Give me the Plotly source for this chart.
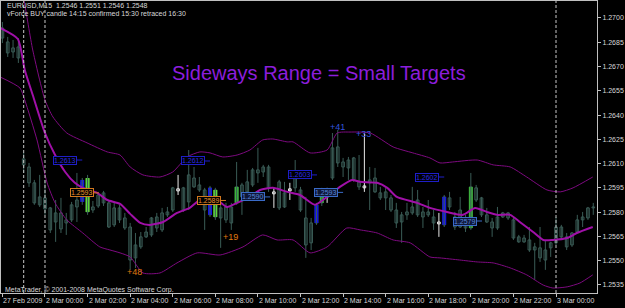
import numpy as np
import plotly.graph_objects as go

# ---------------- data (EURUSD M15) ----------------
opens = [1.26938, 1.26852, 1.26790, 1.26821, 1.26129, 1.26079, 1.25981, 1.25845, 1.25888, 1.25826,
         1.25739, 1.25795, 1.25733, 1.25752, 1.25832, 1.25875, 1.26005, 1.25832, 1.25838, 1.25857,
         1.25857, 1.25721, 1.25826, 1.25764, 1.25708, 1.25517, 1.25585, 1.25647, 1.25659, 1.25770,
         1.25690, 1.25783, 1.25813, 1.25944, 1.25950, 1.25863, 1.26011, 1.25968, 1.25937, 1.25950,
         1.25770, 1.25764, 1.25832, 1.25733, 1.25857, 1.25894, 1.25925, 1.25968, 1.26042, 1.26048,
         1.26079, 1.25925, 1.25826, 1.25919, 1.25931, 1.25950, 1.25937, 1.25764, 1.25610, 1.25733,
         1.25857, 1.25906, 1.26011, 1.26203, 1.26110, 1.26073, 1.26135, 1.25987, 1.25962, 1.25981,
         1.26011, 1.25919, 1.25888, 1.25888, 1.25813, 1.25739, 1.25783, 1.25795, 1.25875, 1.25770,
         1.25801, 1.25770, 1.25739, 1.25721, 1.25888, 1.25770, 1.25708, 1.25752, 1.25702, 1.25950,
         1.25888, 1.25783, 1.25739, 1.25702, 1.25770, 1.25795, 1.25752, 1.25647, 1.25616, 1.25628,
         1.25566, 1.25579, 1.25566, 1.25579, 1.25610, 1.25708, 1.25647, 1.25597, 1.25677, 1.25752,
         1.25764, 1.25826]
highs = [1.26975, 1.26883, 1.26864, 1.26876, 1.26166, 1.26104, 1.25999, 1.26030, 1.25999, 1.25832,
         1.25875, 1.25888, 1.25795, 1.25863, 1.26042, 1.26011, 1.26030, 1.25869, 1.25925, 1.25931,
         1.25875, 1.25857, 1.25845, 1.25795, 1.25733, 1.25671, 1.25677, 1.25708, 1.25770, 1.25795,
         1.25826, 1.25832, 1.25956, 1.26030, 1.25956, 1.26184, 1.26079, 1.26017, 1.25950, 1.25962,
         1.25950, 1.25857, 1.25857, 1.25857, 1.26110, 1.25981, 1.26061, 1.26073, 1.26197, 1.26092,
         1.26092, 1.25950, 1.25999, 1.25987, 1.25981, 1.26122, 1.25956, 1.25894, 1.25764, 1.25857,
         1.25950, 1.25950, 1.26289, 1.26308, 1.26135, 1.26141, 1.26141, 1.26153, 1.26289, 1.26079,
         1.26073, 1.25956, 1.25950, 1.25906, 1.25857, 1.25801, 1.25857, 1.25956, 1.25937, 1.25832,
         1.25875, 1.25813, 1.25795, 1.25906, 1.25925, 1.25801, 1.25894, 1.25783, 1.26042, 1.25968,
         1.25894, 1.25826, 1.25764, 1.25832, 1.25801, 1.25801, 1.25764, 1.25659, 1.25659, 1.25708,
         1.25610, 1.25708, 1.25628, 1.25616, 1.25770, 1.25721, 1.25671, 1.25677, 1.25783, 1.25801,
         1.25832, 1.25857]
lows = [1.26845, 1.26759, 1.26753, 1.26722, 1.26042, 1.25956, 1.25845, 1.25832, 1.25783, 1.25671,
        1.25616, 1.25671, 1.25659, 1.25739, 1.25739, 1.25845, 1.25783, 1.25795, 1.25826, 1.25838,
        1.25702, 1.25708, 1.25733, 1.25690, 1.25443, 1.25455, 1.25573, 1.25640, 1.25647, 1.25677,
        1.25677, 1.25770, 1.25801, 1.25906, 1.25801, 1.25813, 1.25950, 1.25925, 1.25690, 1.25770,
        1.25752, 1.25579, 1.25733, 1.25690, 1.25845, 1.25783, 1.25919, 1.25956, 1.25981, 1.26017,
        1.25925, 1.25826, 1.25813, 1.25826, 1.25875, 1.25925, 1.25801, 1.25517, 1.25566, 1.25721,
        1.25838, 1.25857, 1.25999, 1.26079, 1.26017, 1.25999, 1.25987, 1.25937, 1.25925, 1.25813,
        1.25919, 1.25875, 1.25813, 1.25801, 1.25702, 1.25610, 1.25752, 1.25783, 1.25770, 1.25702,
        1.25770, 1.25690, 1.25647, 1.25708, 1.25813, 1.25690, 1.25702, 1.25677, 1.25690, 1.25863,
        1.25770, 1.25733, 1.25647, 1.25690, 1.25764, 1.25752, 1.25628, 1.25610, 1.25610, 1.25554,
        1.25381, 1.25492, 1.25443, 1.25523, 1.25597, 1.25640, 1.25566, 1.25585, 1.25671, 1.25708,
        1.25752, 1.25783]
closes = [1.26876, 1.26784, 1.26815, 1.26753, 1.26092, 1.25981, 1.25857, 1.25894, 1.25820, 1.25690,
          1.25795, 1.25696, 1.25752, 1.25845, 1.25875, 1.25987, 1.25801, 1.25813, 1.25906, 1.25919,
          1.25708, 1.25826, 1.25752, 1.25702, 1.25504, 1.25597, 1.25647, 1.25677, 1.25764, 1.25702,
          1.25795, 1.25801, 1.25950, 1.25931, 1.25813, 1.26030, 1.25956, 1.25937, 1.25813, 1.25783,
          1.25937, 1.25826, 1.25752, 1.25832, 1.25956, 1.25968, 1.25987, 1.26061, 1.26061, 1.26079,
          1.25950, 1.25913, 1.25987, 1.25832, 1.25944, 1.26048, 1.25813, 1.25597, 1.25733, 1.25845,
          1.25937, 1.25894, 1.26197, 1.26104, 1.26079, 1.26122, 1.25999, 1.25956, 1.25950, 1.25999,
          1.25925, 1.25888, 1.25925, 1.25813, 1.25733, 1.25783, 1.25801, 1.25832, 1.25783, 1.25801,
          1.25783, 1.25733, 1.25727, 1.25894, 1.25832, 1.25708, 1.25813, 1.25702, 1.25956, 1.25875,
          1.25783, 1.25739, 1.25702, 1.25770, 1.25795, 1.25764, 1.25640, 1.25616, 1.25640, 1.25566,
          1.25585, 1.25517, 1.25504, 1.25610, 1.25708, 1.25647, 1.25585, 1.25671, 1.25752, 1.25770,
          1.25826, 1.25832]

# candles highlighted in white
white_idx = [33, 51, 54, 61, 68, 82]

# vForce signal bars
sig_idx = [15, 16, 39, 40, 44, 59, 60, 83, 88]
sig_hi = [1.25999, 1.26011, 1.25950, 1.25937, 1.25956, 1.25845, 1.25937, 1.25894, 1.25956]
sig_lo = [1.25863, 1.25801, 1.25783, 1.25770, 1.25857, 1.25733, 1.25857, 1.25721, 1.25702]
sig_col = ["#1414E0", "#5ED83A", "#1414E0", "#5ED83A", "#3CB43C",
           "#1414E0", "#3CAF3C", "#1414E0", "#3CAF3C"]

# envelope / moving average (bar index, price)
mid_x = [-0.4, 2.9, 4.2, 5.7, 8.0, 9.9, 11.8, 13.6, 15.1, 17.8, 19.7, 22.1, 24.0, 25.9, 27.7,
         30.2, 32.8, 35.2, 37.1, 40.3, 42.2, 44.1, 46.5, 48.4, 50.8, 53.5, 55.9, 58.7, 61.0,
         63.4, 65.7, 67.2, 70.4, 72.3, 74.1, 77.9, 80.3, 83.5, 86.5, 88.8, 91.0, 92.9, 95.4,
         97.2, 99.7, 101.6, 103.4, 106.1, 107.9, 110.9]
mid_y = [1.26938, 1.26870, 1.26679, 1.26524, 1.26289, 1.26153, 1.26048, 1.25981, 1.25950,
         1.25919, 1.25875, 1.25851, 1.25789, 1.25733, 1.25721, 1.25739, 1.25795, 1.25826,
         1.25875, 1.25875, 1.25832, 1.25857, 1.25894, 1.25937, 1.25950, 1.25925, 1.25906,
         1.25845, 1.25894, 1.25956, 1.25999, 1.25987, 1.25981, 1.25950, 1.25894, 1.25857,
         1.25826, 1.25801, 1.25783, 1.25826, 1.25801, 1.25783, 1.25783, 1.25739, 1.25677,
         1.25628, 1.25628, 1.25640, 1.25671, 1.25708]
up_x = [3.5, 4.1, 5.7, 8.0, 9.5, 12.1, 15.9, 19.7, 22.1, 24.0, 26.4, 29.6, 32.0, 34.7, 37.1,
        39.0, 41.4, 44.1, 46.5, 48.9, 50.8, 53.5, 54.6, 57.8, 61.0, 62.9, 65.3, 69.1, 73.4,
        77.1, 80.3, 82.2, 84.6, 89.2, 92.2, 95.4, 98.5, 102.3, 104.8, 107.2, 110.9]
up_y = [1.27173, 1.27099, 1.26802, 1.26493, 1.26388, 1.26289, 1.26228, 1.26172, 1.26153,
        1.26079, 1.26030, 1.26017, 1.26048, 1.26141, 1.26172, 1.26166, 1.26141, 1.26153,
        1.26184, 1.26246, 1.26252, 1.26234, 1.26234, 1.26166, 1.26184, 1.26289, 1.26295,
        1.26289, 1.26203, 1.26166, 1.26135, 1.26104, 1.26110, 1.26122, 1.26092, 1.26079,
        1.26017, 1.25937, 1.25925, 1.25950, 1.26017]
lo_x = [-0.4, 3.3, 4.2, 6.5, 8.4, 9.9, 12.1, 15.1, 18.3, 20.2, 22.1, 24.0, 26.4, 29.6, 32.8,
        36.6, 40.9, 45.2, 48.9, 51.6, 54.6, 57.8, 61.0, 64.7, 67.2, 70.4, 73.4, 76.6, 80.3,
        82.2, 85.9, 89.2, 92.2, 95.4, 98.5, 101.6, 103.4, 106.1, 108.5, 110.9]
lo_y = [1.26635, 1.26567, 1.26493, 1.26246, 1.25981, 1.25857, 1.25752, 1.25671, 1.25585,
        1.25566, 1.25548, 1.25523, 1.25424, 1.25424, 1.25486, 1.25548, 1.25535, 1.25585,
        1.25659, 1.25628, 1.25628, 1.25548, 1.25585, 1.25702, 1.25690, 1.25671, 1.25628,
        1.25610, 1.25523, 1.25517, 1.25504, 1.25492, 1.25486, 1.25455, 1.25412, 1.25349,
        1.25331, 1.25338, 1.25362, 1.25412]

# price-level labels (end bar index, price, text, kind)
lab_idx = [15.0, 18.1, 39.0, 42.0, 50.3, 59.1, 64.0, 83.0, 90.1]
lab_price = [1.26122, 1.25919, 1.26116, 1.25872, 1.25894, 1.26030, 1.25922, 1.26017, 1.25745]
lab_text = ["1.2613", "1.2593", "1.2612", "1.2589", "1.2590", "1.2603", "1.2593", "1.2602", "1.2579"]
lab_kind = ["blue", "orange", "blue", "orange", "light", "blue", "light", "blue", "light"]

# pip targets
tgt_idx = [24.9, 42.9, 62.9, 67.9]
tgt_price = [1.25430, 1.25647, 1.26326, 1.26283]
tgt_text = ["+48", "+19", "+41", "+33"]
tgt_col = ["#E07A10", "#E07A10", "#3355DD", "#3355DD"]

# axes
xt_idx = [0, 8, 16, 24, 32, 40, 48, 56, 64, 72, 80, 88, 96, 104]
xt_text = ["27 Feb 2009", "2 Mar 00:00", "2 Mar 02:00", "2 Mar 04:00", "2 Mar 06:00",
           "2 Mar 08:00", "2 Mar 10:00", "2 Mar 12:00", "2 Mar 14:00", "2 Mar 16:00",
           "2 Mar 18:00", "2 Mar 20:00", "2 Mar 22:00", "3 Mar 00:00"]
yt_vals = [1.2700, 1.2685, 1.2670, 1.2655, 1.2640, 1.2625, 1.2610, 1.2595, 1.2580, 1.2565, 1.2550, 1.2535]
yt_text = ["%.4f" % v for v in yt_vals]
separators = [4, 8, 104]

title_text = "Sideways Range = Small Targets"
header1 = "EURUSD,M15  1.2546 1.2551 1.2546 1.2548"
header2 = "vForce BUY candle 14:15 confirmed 15:30 retraced 16:30"
footer = "MetaTrader, \u00a9 2001-2008 MetaQuotes Software Corp."

# ---------------- styling ----------------
CANDLE = "#3A5C56"
FONT = "Liberation Sans"
TXT = "#D8D8D8"

o = np.array(opens); h = np.array(highs); l = np.array(lows); c = np.array(closes)
n = len(o)
normal_idx = [i for i in range(n) if i not in white_idx]


def wick_xy(ids):
    xs, ys = [], []
    for i in ids:
        xs += [i, i, None]
        ys += [l[i], h[i], None]
    return xs, ys


fig = go.Figure()

wx, wy = wick_xy(normal_idx)
fig.add_trace(go.Scatter(x=wx, y=wy, mode="lines", line=dict(color=CANDLE, width=1), hoverinfo="skip"))
fig.add_trace(go.Bar(x=normal_idx, base=np.minimum(o, c)[normal_idx], y=np.abs(c - o)[normal_idx],
                     width=0.5, marker=dict(color="#000000", line=dict(color=CANDLE, width=1)),
                     hoverinfo="skip"))

wx, wy = wick_xy(white_idx)
fig.add_trace(go.Scatter(x=wx, y=wy, mode="lines", line=dict(color="#E8E8E8", width=1), hoverinfo="skip"))
fig.add_trace(go.Bar(x=white_idx, base=np.minimum(o, c)[white_idx], y=np.abs(c - o)[white_idx],
                     width=0.5, marker=dict(color="#000000", line=dict(color="#E8E8E8", width=1)),
                     hoverinfo="skip"))

for xs, ys, w, col in [(up_x, up_y, 1, "#7E0A80"), (lo_x, lo_y, 1, "#7E0A80"), (mid_x, mid_y, 2, "#A010A8")]:
    fig.add_trace(go.Scatter(x=xs, y=ys, mode="lines", line=dict(color=col, width=w, shape="spline", smoothing=0.6),
                             hoverinfo="skip"))

fig.add_trace(go.Bar(x=sig_idx, base=sig_lo, y=np.array(sig_hi) - np.array(sig_lo), width=0.75,
                     marker=dict(color=sig_col, line=dict(width=0)), hoverinfo="skip"))

anns = []
styles = {
    "blue": dict(fc="#2A2AE0", bc="#1E1EC8", bg="#000000"),
    "orange": dict(fc="#E8922E", bc="#D2781E", bg="#000000"),
    "light": dict(fc="#5A86D8", bc="#3A6BC8", bg="#0E1838"),
}
for xi, pr, tx, kd in zip(lab_idx, lab_price, lab_text, lab_kind):
    st = styles[kd]
    anns.append(dict(x=xi, y=pr, xref="x", yref="y", text=tx, showarrow=True, arrowhead=0,
                     arrowwidth=1, arrowcolor=st["bc"], ax=-17, ay=0,
                     font=dict(family=FONT, size=7, color=st["fc"]),
                     bordercolor=st["bc"], borderwidth=1, borderpad=0, bgcolor=st["bg"]))
for xi, pr, tx, col in zip(tgt_idx, tgt_price, tgt_text, tgt_col):
    anns.append(dict(x=xi, y=pr, xref="x", yref="y", text=tx, showarrow=False,
                     font=dict(family=FONT, size=9, color=col)))
for xi, tx in zip(xt_idx, xt_text):
    anns.append(dict(x=xi, y=0, xref="x", yref="paper", text=tx, showarrow=False,
                     xanchor="left", yanchor="top", xshift=-1, yshift=-2,
                     font=dict(family=FONT, size=7, color=TXT)))
anns.append(dict(x=0.5336, y=0.798, xref="paper", yref="paper", text=title_text, showarrow=False,
                 font=dict(family=FONT, size=20, color="#8C1EDC")))
anns.append(dict(x=0.0067, y=0.983, xref="paper", yref="paper", text=header1, showarrow=False,
                 xanchor="left", yanchor="middle", font=dict(family=FONT, size=7, color=TXT)))
anns.append(dict(x=0.0067, y=0.957, xref="paper", yref="paper", text=header2, showarrow=False,
                 xanchor="left", yanchor="middle", font=dict(family=FONT, size=7, color=TXT)))
anns.append(dict(x=0.0034, y=0.0086, xref="paper", yref="paper", text=footer, showarrow=False,
                 xanchor="left", yanchor="middle", font=dict(family=FONT, size=7, color=TXT)))

shapes = [dict(type="line", x0=s, x1=s, xref="x", y0=0, y1=1, yref="paper",
               line=dict(color="#C8C8C8", width=1, dash="3px,2px"), layer="above") for s in separators]

fig.update_layout(
    width=625, height=308,
    margin=dict(l=1, r=28, t=1, b=15),
    paper_bgcolor="#000000", plot_bgcolor="#000000",
    showlegend=False, barmode="overlay", hovermode=False,
    annotations=anns, shapes=shapes,
    xaxis=dict(range=[-0.263, 111.7], showgrid=False, zeroline=False, showline=True, mirror=True,
               linecolor="#C0C0C0", linewidth=1, tickvals=xt_idx, ticks="outside", ticklen=3,
               tickcolor="#C0C0C0", showticklabels=False),
    yaxis=dict(range=[1.25300, 1.27105], side="right", showgrid=False, zeroline=False, showline=True,
               mirror=True, linecolor="#C0C0C0", linewidth=1, tickvals=yt_vals, ticktext=yt_text,
               ticks="outside", ticklen=3, tickcolor="#C0C0C0",
               tickfont=dict(family=FONT, size=7, color=TXT)),
)

fig.write_html("out.html")
